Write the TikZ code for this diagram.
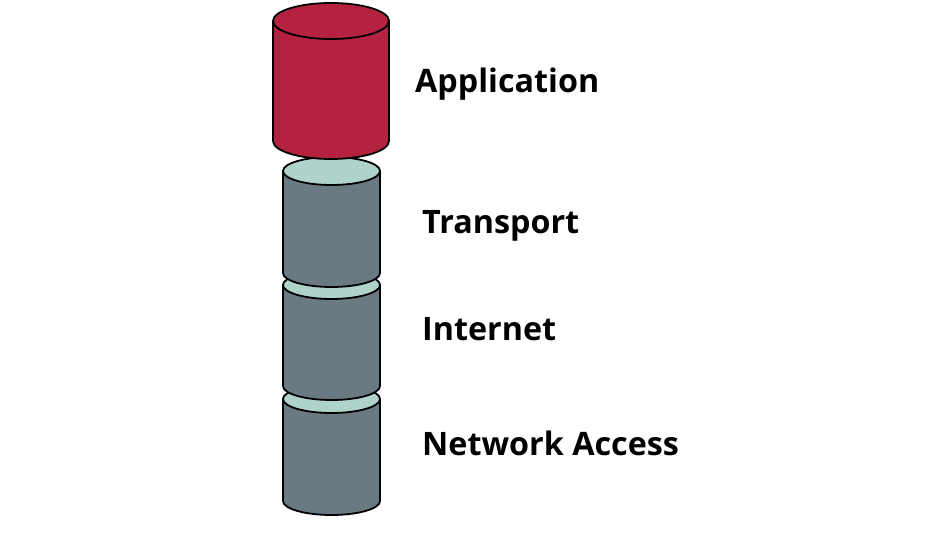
\documentclass[tikz,border=0pt]{standalone}
\usepackage{fontspec}
\setmainfont{Open Sans}
\definecolor{appred}{HTML}{B5223F}
\definecolor{layergray}{HTML}{6A7A82}
\definecolor{capteal}{HTML}{AFD3CA}
\tikzset{
  outline/.style={draw=black, line width=1.8pt, line join=round},
  label/.style={anchor=base west, inner sep=0pt, font=\fontsize{32.3}{32.3}\selectfont\bfseries, text=black},
}
% #1 cx, #2 rx, #3 top y, #4 bottom y, #5 ry, #6 body colour, #7 cap colour
\newcommand{\layercyl}[7]{%
  \path[outline, fill=#6] (#1-#2,#3) -- (#1-#2,#4)
     arc[start angle=180, end angle=0, x radius=#2, y radius=#5]
     -- (#1+#2,#3) -- cycle;
  \path[outline, fill=#7] (#1,#3) ellipse[x radius=#2, y radius=#5];
}
\begin{document}
\begin{tikzpicture}[x=1pt, y=-1pt]
  \useasboundingbox (0,0) rectangle (950,534);
  \layercyl{331.5}{48.5}{399}{501}{14}{layergray}{capteal}
  \layercyl{331.5}{48.5}{285}{386}{14}{layergray}{capteal}
  \layercyl{331.5}{48.5}{171}{273}{14}{layergray}{capteal}
  \layercyl{331}{58}{21}{141}{18}{appred}{appred}
  \node[label] (app) at (415,93) {Application};
  \node[label] (trans) at (422,234) {Transport};
  \node[label] (inet) at (422,341) {Internet};
  \node[label] (net) at (422,455) {Network Access};
\end{tikzpicture}
\end{document}
